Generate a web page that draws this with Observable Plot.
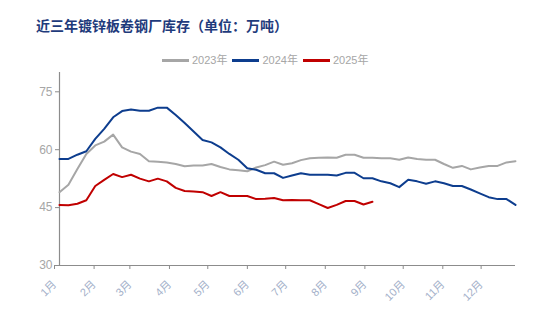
<!DOCTYPE html>
<html>
<head>
<meta charset="utf-8">
<script src="https://cdn.jsdelivr.net/npm/d3@7"></script>
<script src="https://cdn.jsdelivr.net/npm/@observablehq/plot@0.6"></script>
<style>
  html, body { margin: 0; padding: 0; background: #fff; }
  #wrap { position: relative; width: 534px; height: 322px; overflow: hidden; }
  #title { position: absolute; left: 36px; top: 16px; font-family: "Noto Sans CJK SC", sans-serif; font-weight: 700; font-size: 14px; line-height: 18px; color: #1f3b7c; letter-spacing: 0px; white-space: nowrap; }
  #legend { position: absolute; left: 162px; top: 52px; display: flex; align-items: center; font-family: "Liberation Sans", "Noto Sans CJK SC", sans-serif; font-size: 11px; color: #a6a6a6; line-height: 16px; white-space: nowrap; }
  #legend .sw { display: inline-block; width: 27px; height: 3px; margin-right: 3px; }
  #legend .it { display: flex; align-items: center; margin-right: 5px; }
  #chart { position: absolute; left: 0; top: 0; }
</style>
</head>
<body>
<div id="wrap">
  <div id="chart"></div>
  <div id="title">近三年镀锌板卷钢厂库存（单位：万吨）</div>
  <div id="legend"></div>
</div>
<script>
// Series names and colours
const seriesNames = ["2023年", "2024年", "2025年"];
const seriesColors = ["#a6a6a6", "#0d3d8e", "#c00000"];

// Weekly values (万吨), week 0 = early January
const values2023 = [49.0,50.9,55.0,58.9,61.1,62.1,63.9,60.6,59.5,58.9,57.0,56.9,56.7,56.3,55.7,55.9,55.9,56.3,55.5,54.9,54.7,54.4,55.4,56.0,56.9,56.1,56.5,57.3,57.8,57.9,58.0,57.9,58.7,58.7,57.9,57.9,57.8,57.8,57.4,58.0,57.6,57.4,57.4,56.3,55.3,55.8,54.9,55.4,55.8,55.8,56.7,57.0];
const values2024 = [57.6,57.6,58.7,59.6,62.8,65.4,68.4,70.0,70.4,70.1,70.1,70.9,70.9,69.0,66.9,64.7,62.5,61.9,60.6,58.9,57.4,55.2,54.8,53.9,53.9,52.7,53.3,53.9,53.5,53.5,53.5,53.3,54.0,54.0,52.6,52.6,51.8,51.3,50.3,52.2,51.8,51.2,51.8,51.3,50.6,50.6,49.7,48.7,47.7,47.2,47.2,45.7];
const values2025 = [45.7,45.6,46.0,46.9,50.6,52.2,53.7,52.9,53.5,52.5,51.8,52.5,51.8,50.1,49.3,49.2,49.0,48.0,49.0,48.0,48.0,48.0,47.2,47.3,47.5,46.9,47.0,46.9,46.9,45.9,44.9,45.7,46.7,46.7,45.8,46.5];

// Axis ticks
const yTicks = [30, 45, 60, 75];
const monthLabels = ["1月","2月","3月","4月","5月","6月","7月","8月","9月","10月","11月","12月"];

// Build table: one row per (series, week)
const allValues = [values2023, values2024, values2025];
const rows = [];
allValues.forEach((vals, s) => {
  vals.forEach((v, i) => {
    rows.push({ series: seriesNames[s], date: new Date(Date.UTC(2023, 0, 1 + 7 * i)), value: v });
  });
});
const monthTicks = monthLabels.map((_, m) => new Date(Date.UTC(2023, m, 1)));

const axisColor = "#8c8c8c";

const chart = Plot.plot({
  width: 534,
  height: 322,
  marginTop: 72,
  marginBottom: 57,
  marginLeft: 59,
  marginRight: 19,
  style: { fontFamily: "'Liberation Sans', 'Noto Sans CJK SC', sans-serif", background: "transparent", overflow: "visible" },
  x: { type: "utc" },
  y: { domain: [30, 80] },
  color: { domain: seriesNames, range: seriesColors },
  marks: [
    Plot.axisY({ ticks: yTicks, tickSize: 4, tickPadding: 3, stroke: axisColor, color: "#a6a6a6", fontSize: 12, label: null }),
    Plot.axisX({ ticks: monthTicks, tickFormat: (d) => monthLabels[d.getUTCMonth()], tickSize: 4, tickPadding: 13, tickRotate: -45, stroke: axisColor, color: "#a3b0c9", fontSize: 11, dx: -5, label: null }),
    Plot.ruleX([rows[0].date], { stroke: axisColor, strokeWidth: 1.2 }),
    Plot.ruleY([30], { stroke: axisColor, strokeWidth: 1.2 }),
    Plot.line(rows, { x: "date", y: "value", z: "series", stroke: "series", strokeWidth: 2 })
  ]
});
document.getElementById("chart").appendChild(chart);

// Legend
const legend = document.getElementById("legend");
seriesNames.forEach((name, i) => {
  const it = document.createElement("span");
  it.className = "it";
  const sw = document.createElement("span");
  sw.className = "sw";
  sw.style.background = seriesColors[i];
  it.appendChild(sw);
  const t = document.createElement("span");
  t.textContent = name;
  it.appendChild(t);
  legend.appendChild(it);
});
</script>
</body>
</html>
